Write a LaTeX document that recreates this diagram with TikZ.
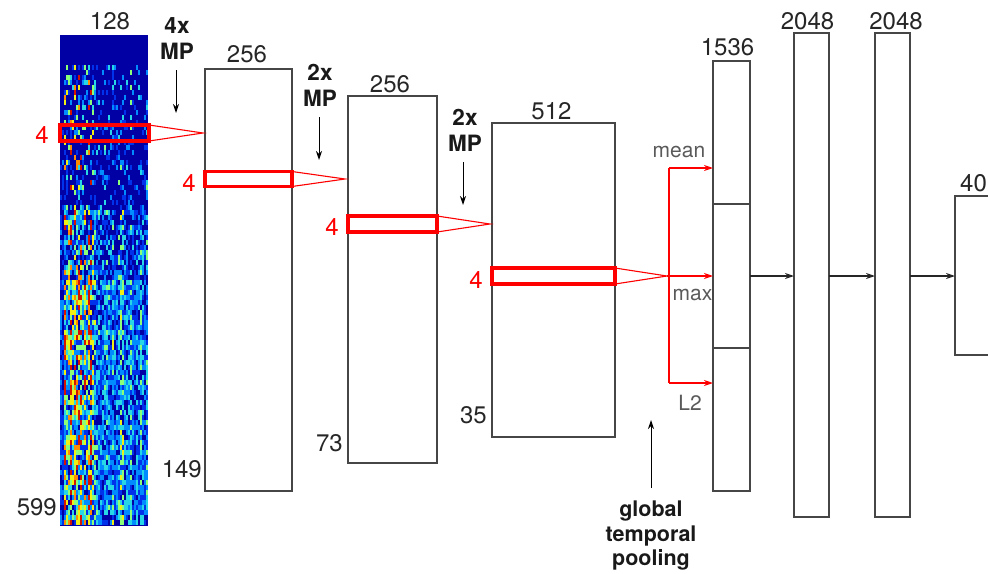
\documentclass[tikz,border=0pt]{standalone}
\usepackage{fontspec}
\setmainfont{TeX Gyre Heros}
\usetikzlibrary{arrows.meta}
\definecolor{boxgray}{RGB}{70,70,70}
\definecolor{txtgray}{RGB}{90,90,90}
\definecolor{specbg}{RGB}{0,0,165}
\definecolor{spec1}{RGB}{0,50,235}
\definecolor{spec2}{RGB}{0,140,255}
\definecolor{spec3}{RGB}{40,215,230}
\definecolor{spec4}{RGB}{140,255,120}
\definecolor{spec5}{RGB}{240,240,20}
\definecolor{spec6}{RGB}{255,140,0}
\definecolor{spec7}{RGB}{210,20,0}
\begin{document}
\begin{tikzpicture}[x=1pt,y=-1pt,
  box/.style={draw=boxgray, line width=1.4pt, inner sep=0pt, outer sep=0pt, anchor=north west},
  redbox/.style={draw=red, line width=3.8pt, inner sep=0pt, outer sep=0pt, anchor=north west},
  num/.style={font=\fontsize{24}{28}\selectfont, inner sep=0pt, text=black!85},
  redlbl/.style={font=\fontsize{24}{28}\selectfont, inner sep=0pt, text=red, anchor=base east},
  boldlbl/.style={font=\bfseries\fontsize{22.5}{26}\selectfont, inner sep=0pt, align=center, anchor=north, text=black!90},
  gtplbl/.style={font=\bfseries\fontsize{21.5}{24.5}\selectfont, inner sep=0pt, align=center, anchor=north, text=black!90},
  poollbl/.style={font=\fontsize{21}{25}\selectfont, inner sep=0pt, text=txtgray, anchor=base},
  redline/.style={draw=red, line width=1.1pt},
  redarrow/.style={redline, -{Stealth[length=9pt,width=6pt]}},
  blkarrow/.style={draw=black, line width=1pt, -{Stealth[length=9pt,width=6pt]}},
  fcarrow/.style={draw=black!85, line width=1.2pt, -{Stealth[length=9pt,width=6pt]}}]
\useasboundingbox (0,0) rectangle (988,573);
\clip (0,0) rectangle (988,573);

% spectrogram
\pgfmathsetseed{11}
\fill[specbg] (60,35) rectangle (148,526);
\foreach \i in {0,...,43}{
  \pgfmathsetmacro\cf{0.5+0.5*rnd}
  \foreach \j in {0,...,97}{
    \pgfmathsetmacro\yy{35+5*\j}
    \pgfmathsetmacro\ff{\cf*(\i<2 ? 0.45 : (\i<16 ? 1.2 : 1.0-0.009*\i))}
    \pgfmathsetmacro\gg{\yy<62 ? 0 : (\yy<210 ? pow(rnd+0.001,4.5) : (\yy<280 ? pow(rnd+0.001,1.5) : pow(rnd+0.001,0.85)))}
    \pgfmathtruncatemacro\lev{min(7,8*\ff*\gg)}
    \ifnum\lev>0
      \pgfmathsetmacro\xx{60+2*\i}
      \fill[spec\lev] (\xx,\yy) rectangle ++(2,5);
    \fi
  }
}
\node[inner sep=0pt, outer sep=0pt, anchor=north west, minimum width=88, minimum height=491] (spec) at (60,35) {};

% layer boxes
\node[box, minimum width=87, minimum height=422] (c1) at (205,69) {};
\node[box, minimum width=89, minimum height=367] (c2) at (348,96) {};
\node[box, minimum width=123, minimum height=314] (c3) at (492,123) {};
\node[box, minimum width=37, minimum height=143] (s1) at (713,61) {};
\node[box, minimum width=37, minimum height=144] (s2) at (713,204) {};
\node[box, minimum width=37, minimum height=143] (s3) at (713,348) {};
\node[box, minimum width=35, minimum height=484] (f1) at (794,33) {};
\node[box, minimum width=35, minimum height=484] (f2) at (875,33) {};
\node[box, minimum width=80, minimum height=159] (o) at (955,196) {};

% size labels
\node[num, anchor=base] (l128) at (110,29.5) {128};
\node[num, anchor=base] (l256a) at (247,62.5) {256};
\node[num, anchor=base] (l256b) at (390,92) {256};
\node[num, anchor=base] (l512) at (551.5,119) {512};
\node[num, anchor=base] (l1536) at (727.5,55) {1536};
\node[num, anchor=base] (l2048a) at (807.5,29.5) {2048};
\node[num, anchor=base] (l2048b) at (896,29.5) {2048};
\node[num, anchor=base west] (l40) at (960,191.5) {40};
\node[num, anchor=base east] (l599) at (57,515) {599};
\node[num, anchor=base east] (l149) at (202,477) {149};
\node[num, anchor=base east] (l73) at (343,451) {73};
\node[num, anchor=base east] (l35) at (487,423) {35};

% red windows
\node[redbox, minimum width=89, minimum height=16] (r1) at (60,125) {};
\node[redbox, minimum width=87, minimum height=15] (r2) at (205,171.5) {};
\node[redbox, minimum width=89, minimum height=16] (r3) at (348,216) {};
\node[redbox, minimum width=123, minimum height=16] (r4) at (492,268) {};
\node[redlbl] (n1) at (49,143) {4};
\node[redlbl] (n2) at (196,191) {4};
\node[redlbl] (n3) at (339,235) {4};
\node[redlbl] (n4) at (483,288) {4};

\coordinate (a1) at (203,133);
\coordinate (a2) at (345,179);
\coordinate (a3) at (490,224);
\coordinate (a4) at (667,276);
\draw[redline] (r1.north east) -- (a1) -- (r1.south east);
\draw[redline] (r2.north east) -- (a2) -- (r2.south east);
\draw[redline] (r3.north east) -- (a3) -- (r3.south east);
\draw[redline] (r4.north east) -- (a4) -- (r4.south east);

% pooling branches
\coordinate (bt) at (669,168);
\coordinate (bb) at (669,383);
\draw[redline] (bt) -- (bb);
\draw[redarrow] (bt) -- (s1.west |- bt);
\draw[redarrow] (a4) -- (s2.west |- a4);
\draw[redarrow] (bb) -- (s1.west |- bb);
\node[poollbl] (pmean) at (679,157) {mean};
\node[poollbl] (pmax) at (692.5,300) {max};
\node[poollbl] (pl2) at (690,410) {L2};

% fully connected arrows
\draw[fcarrow] (s2.east |- a4) -- (f1.west |- a4);
\draw[fcarrow] (f1.east |- a4) -- (f2.west |- a4);
\draw[fcarrow] (f2.east |- a4) -- (o.west |- a4);

% max pooling labels
\node[boldlbl] (mp1) at (177,17) {4x\\MP};
\node[boldlbl] (mp2) at (320,64) {2x\\MP};
\node[boldlbl] (mp3) at (465,109) {2x\\MP};
\coordinate (m1s) at (176,70);  \coordinate (m1e) at (176,113);
\coordinate (m2s) at (319,117); \coordinate (m2e) at (319,160);
\coordinate (m3s) at (463,162); \coordinate (m3e) at (463,205);
\draw[blkarrow] (m1s) -- (m1e);
\draw[blkarrow] (m2s) -- (m2e);
\draw[blkarrow] (m3s) -- (m3e);

% global temporal pooling
\node[gtplbl] (gtp) at (651,501) {global\\temporal\\pooling};
\coordinate (gs) at (651,488);
\coordinate (ge) at (651,420);
\draw[blkarrow] (gs) -- (ge);
\end{tikzpicture}
\end{document}
